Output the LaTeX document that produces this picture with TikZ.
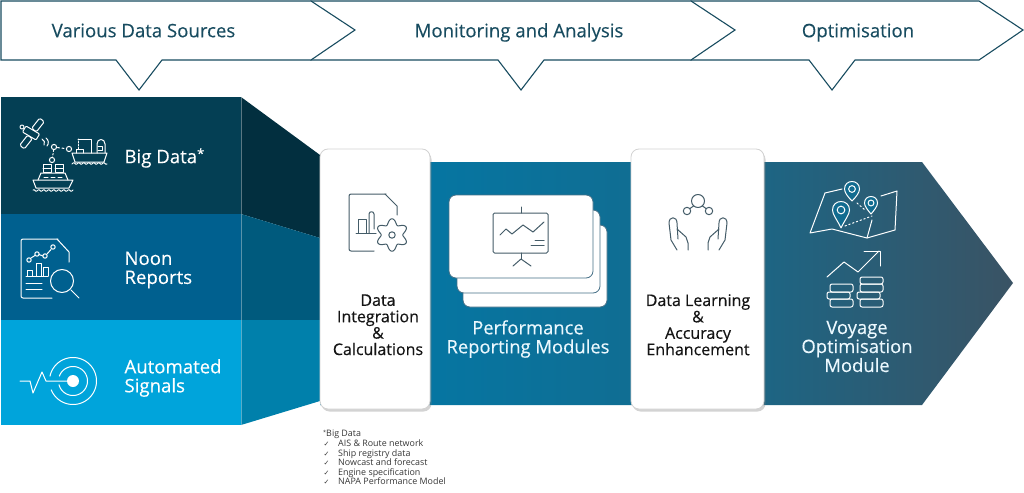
\documentclass[tikz,border=0pt]{standalone}
\usepackage{fontspec}
\setmainfont{Open Sans}
\newfontfamily\mediumfont[FakeBold=0.25]{Open Sans}
\newfontfamily\cardfont[FakeBold=0.4]{Open Sans}
\newfontfamily\checkfont{DejaVu Sans}
\usepackage{tikz}
\usetikzlibrary{shadows}
\definecolor{ribbonc}{RGB}{24,76,96}
\definecolor{bigc}{RGB}{4,63,84}
\definecolor{noonc}{RGB}{0,96,143}
\definecolor{autoc}{RGB}{0,164,219}
\definecolor{bigsidec}{RGB}{2,47,63}
\definecolor{noonsidec}{RGB}{0,90,125}
\definecolor{autosidec}{RGB}{0,128,171}
\definecolor{arrowlc}{RGB}{0,122,170}
\definecolor{arrowmc}{RGB}{18,108,144}
\definecolor{arrowrc}{RGB}{58,83,100}
\definecolor{iconc}{RGB}{68,92,104}
\definecolor{edgec}{RGB}{70,112,135}
\definecolor{inkc}{RGB}{20,20,20}
\tikzset{
  iconw/.style={white, line width=1pt, line join=round},
  iconk/.style={iconc, line width=1pt, line join=round},
  cardbox/.style={fill=white, draw=gray!35, line width=0.8pt, rounded corners=8pt,
    drop shadow={opacity=0.35, shadow xshift=1.5pt, shadow yshift=-2.5pt}},
  slidebox/.style={fill=white, draw=edgec, line width=0.8pt, rounded corners=7pt},
  ribtext/.style={ribbonc, text height=13.5pt, text depth=4pt, font=\mediumfont\fontsize{18.6}{20}\selectfont},
  sourcetext/.style={white, anchor=west, align=left, font=\mediumfont\fontsize{18.6}{19}\selectfont},
  cardtext/.style={inkc, align=center, font=\cardfont\fontsize{16}{16.4}\selectfont},
  flowtext/.style={white!92!cyan, align=center, font=\mediumfont\fontsize{18.4}{19}\selectfont},
  notetext/.style={inkc!85, anchor=west, text height=6.5pt, text depth=2pt, font=\fontsize{8.9}{9}\selectfont, inner sep=0pt}
}

\begin{document}
\begin{tikzpicture}[x=1pt, y=-1pt, line cap=round]
  \useasboundingbox (0,0) rectangle (1024,492);

  % top ribbon: drawn back to front so each tip covers the next left side
  \foreach \xa/\xb/\xc/\xt/\nm/\lbl in {691/979/832/858/ribopt/Optimisation,
      311/691/521/519/ribmon/Monitoring and Analysis,
      1/311/139/143.5/ribsrc/Various Data Sources}{
    \draw[ribbonc, fill=white, line width=1.1pt, line join=miter]
      (\xa,1) -- (\xb,1) -- ({\xb+44},30) -- (\xb,60) -- ({\xc+23},60) -- (\xc,90)
      -- ({\xc-23},60) -- (\xa,60) -- cycle;
    \node[ribtext] (\nm) at (\xt,32.5) {\lbl};
  }

  % main arrow behind the cards
  \shade[left color=arrowlc, right color=arrowrc, middle color=arrowmc]
    (320,162) -- (922,162) -- (1013,283) -- (922,405) -- (320,405) -- cycle;

  % side faces of the source block
  \fill[bigsidec]  (241,97)  -- (320,155) -- (320,238) -- (241,214) -- cycle;
  \fill[noonsidec] (241,214) -- (320,238) -- (320,320) -- (241,320) -- cycle;
  \fill[autosidec] (241,320) -- (320,320) -- (320,401) -- (241,425) -- cycle;

  % source bands
  \fill[bigc]  (1,97)  rectangle (241,214);
  \fill[noonc] (1,214) rectangle (241,320);
  \fill[autoc] (1,320) rectangle (241,425);
  \draw[white, opacity=0.35, line width=0.8pt] (241,97) -- (241,425);

  \node[sourcetext] (bigdata) at (121,158) {Big Data\raisebox{5pt}{\fontsize{13}{13}\selectfont *}};
  \node[sourcetext] (noon) at (121,270) {Noon\\Reports};
  \node[sourcetext] (signals) at (121,378) {Automated\\Signals};

  % satellite, two ships
  \draw[iconw, rounded corners=1.5pt] (44.3,121.8) -- (39.7,118) -- (31.7,128.2) -- (36.3,132) -- cycle;
  \draw[iconw, rounded corners=1.5pt] (32.3,138.8) -- (27.7,135) -- (19.7,145.2) -- (24.3,149) -- cycle;
  \draw[iconw, rounded corners=1pt] (36,140) -- (39.6,134) -- (26,126) -- (22.5,132) -- cycle;
  \draw[iconw] (22,127) circle[radius=2];
  \draw[iconw] (42,139) to[bend left=50] (44,145);
  \draw[iconw] (46,138) to[bend left=50] (47,146);
  \foreach \cx/\cy in {54/147,69/149,52/160}{
    \draw[iconw] (\cx,\cy) circle[radius=2.6];
  }
  \draw[iconw, dash pattern=on 1.5pt off 2pt] (53.6,150) -- (52.6,157);
  \draw[iconw, dash pattern=on 2pt off 2.5pt] (57.5,147.6) -- (66,148.6);
  % ship on the right
  \draw[iconw] (72,153) -- (107,153) -- (104,162) -- (75,162) -- cycle;
  \draw[iconw] (76,153) -- (76,149) -- (83,149) -- (83,153);
  \draw[iconw, dash pattern=on 1.5pt off 1.5pt] (78,149) -- (78,139);
  \draw[iconw] (78,139) -- (91,139) -- (91,153);
  \draw[iconw] (97,153) -- (97,144) .. controls (97,138) and (105,138) .. (105,144) -- (105,153);
  \draw[iconw] (98,146) -- (102,146) -- (102,150) -- (98,150);
  \draw[iconw] plot[domain=72:107, samples=36, smooth] (\x,{163.5+0.8*sin(72*\x)});
  % ship below
  \draw[iconw] (33,180) -- (73,180) -- (69,188) -- (36,188) -- cycle;
  \draw[iconw] (38,180) -- (41,173) -- (65,173) -- (68,180);
  \draw[iconw] (44,177) -- (48,177) (51,177) -- (55,177) (58,177) -- (62,177);
  \draw[iconw] (43,172.5) rectangle (51,164) (55,172.5) rectangle (63,164);
  \draw[iconw] (43,168) -- (51,168) (55,168) -- (63,168);
  \draw[iconw] plot[domain=33:73, samples=41, smooth] (\x,{190.5+0.8*sin(72*\x)});

  % report with magnifier
  \draw[iconw, rounded corners=2pt] (52,298) -- (21,298) -- (21,239) -- (58,239);
  \draw[iconw] (57,239) -- (69,252) -- (69,262);
  \draw[iconw] (31,258) -- (35,255.5) (39,254.5) -- (43,256) (47,254) -- (51,249.5);
  \foreach \cx/\cy in {29/260,37/254,45/256,53/247}{
    \draw[iconw] (\cx,\cy) circle[radius=2.2];
  }
  \draw[iconw] (26,276) -- (48,276);
  \draw[iconw] (27,276) -- (27,270) -- (32,270) -- (32,276);
  \draw[iconw] (36,276) -- (36,263) -- (41,263) -- (41,276);
  \draw[iconw] (43,276) -- (43,267) -- (48,267) -- (48,276);
  \draw[iconw] (26,283) -- (42,283) (26,289) -- (42,289);
  \draw[iconw] (62,281) circle[radius=11.5];
  \draw[iconw] (71,290) -- (79,298);

  % pulse into target
  \draw[iconw] (20,381) -- (30,381) -- (33,393) -- (42,372) -- (46,381) -- (68,381);
  \fill[white] (73,381) circle[radius=6];
  \draw[iconw] plot[domain=-165:160, samples=60, smooth] ({73+14.5*cos(\x)},{381-14.5*sin(\x)});
  \draw[iconw] plot[domain=-158:168, samples=70, smooth] ({73+23.5*cos(\x)},{381-23.5*sin(\x)});

  % stacked report slides
  \draw[slidebox] (463,225) rectangle (607,307);
  \draw[slidebox] (457,210) rectangle (600,293);
  \draw[slidebox] (449,195) rectangle (593,278);

  % board on the front slide
  \draw[iconk, rounded corners=1.5pt] (493,213) rectangle (548,253);
  \draw[iconk] (521,207) -- (521,213) (521,253) -- (521,259);
  \draw[iconk] (513,266) -- (521,259) -- (531,266);
  \draw[iconk] (500,235) -- (506,229) -- (512,234) -- (523,225) -- (533,232) -- (544,222);
  \draw[iconk] (535,240) -- (544,240) (531,245) -- (544,245);

  \node[flowtext] (perf) at (528,339) {Performance\\Reporting Modules};

  % the two white cards
  \draw[cardbox] (320,149) rectangle (430,409);
  \draw[cardbox] (631,149) rectangle (764,409);
  \node[cardtext] (integ) at (378,324.8) {Data\\Integration\\\&\\Calculations};
  \node[cardtext] (learn) at (698,324.8) {Data Learning\\\&\\Accuracy\\Enhancement};

  % document and gear
  \draw[iconk, rounded corners=2pt] (374,251) -- (349,251) -- (349,194) -- (386,194);
  \draw[iconk] (385,194) -- (397,206) -- (397,215);
  \draw[iconk] (356,233) -- (376,233);
  \draw[iconk] (358,233) -- (358,219) -- (366,219) -- (366,233);
  \draw[iconk] (369,233) -- (369,214) .. controls (369,211) and (374,211) .. (374,214) -- (374,229);
  \draw[iconk] plot[domain=0:360, samples=109, smooth]
    ({392+(13.5+2.7*cos(6*\x-540))*cos(\x)},{235-(13.5+2.7*cos(6*\x-540))*sin(\x)});
  \draw[iconk] (392,235) circle[radius=3.2];

  % hands under network
  \draw[iconk] (698,201) circle[radius=6.5];
  \draw[iconk] (687,211) circle[radius=3.7] (709,211) circle[radius=3.7];
  \draw[iconk] (693.5,206) -- (690,208.5) (702.5,206) -- (706,208.5);
  \foreach \s in {1,-1}{
    \begin{scope}[shift={(698,0)}, xscale=\s]
      \draw[iconk] (-21,250) -- (-27,240) -- (-29,223) .. controls (-29,216) and (-21,216) .. (-21,223) -- (-20,239);
      \draw[iconk] (-21,229) -- (-12,237) -- (-10,243) -- (-10,250);
    \end{scope}
  }

  % map with three pins
  \draw[iconw] (825,193) -- (810,233) -- (832,229) -- (867,238) -- (895,230) -- (897,191) -- (881,196);
  \draw[iconw] (825,193) -- (842,189);
  \draw[iconw] (867,238) -- (872,220);
  \draw[iconw, dash pattern=on 1.5pt off 2.5pt] (845,226) -- (872,216);
  \draw[iconw, dash pattern=on 1.5pt off 2.5pt] (857,203) -- (865,210);
  \foreach \cx/\cy/\ps/\pt in {852/189/7.5/1.6, 871/203/6.5/1.7, 841/210/8.5/2.1}{
    \fill[arrowmc, shift={(\cx,\cy)}, scale=\ps] (0,\pt) .. controls (-0.5,1.1) and (-1,0.5) .. (-1,0)
      .. controls (-1,-1.33) and (1,-1.33) .. (1,0) .. controls (1,0.5) and (0.5,1.1) .. (0,\pt) -- cycle;
    \draw[iconw, shift={(\cx,\cy)}, scale=\ps] (0,\pt) .. controls (-0.5,1.1) and (-1,0.5) .. (-1,0)
      .. controls (-1,-1.33) and (1,-1.33) .. (1,0) .. controls (1,0.5) and (0.5,1.1) .. (0,\pt) -- cycle;
    \draw[iconw] (\cx,\cy) circle[radius=0.45*\ps];
  }

  % rising line over coin stacks
  \draw[iconw] (827,277) -- (844,262) -- (858,272) -- (879,251);
  \draw[iconw] (864,251) -- (880,251) -- (880,266);
  \foreach \xa/\ya/\xb/\yb in {830/284/853/292, 827/292/850/299, 830/299/853/307,
      860/277/883/284, 860/284/883/292, 857/292/880/299, 860/299/883/307}{
    \draw[iconw, rounded corners=2pt] (\xa,\ya) rectangle (\xb,\yb);
  }

  \node[flowtext] (voyage) at (857,346.5) {Voyage\\Optimisation\\Module};

  % footnote list
  \node[notetext] (notehead) at (323,434.5) {\raisebox{2pt}{\fontsize{5.5}{6}\selectfont *}Big Data};
  \foreach \yy/\nm/\lbl in {444/noteais/AIS \& Route network, 454/noteship/Ship registry data,
      463/notecast/Nowcast and forecast, 473/noteeng/Engine specification,
      482/notenapa/NAPA Performance Model}{
    \node[notetext] (\nm) at (338,\yy) {\lbl};
    \node[notetext] (\nm c) at (323.5,\yy) {\checkfont\fontsize{7}{7}\selectfont ✓};
  }
\end{tikzpicture}
\end{document}
